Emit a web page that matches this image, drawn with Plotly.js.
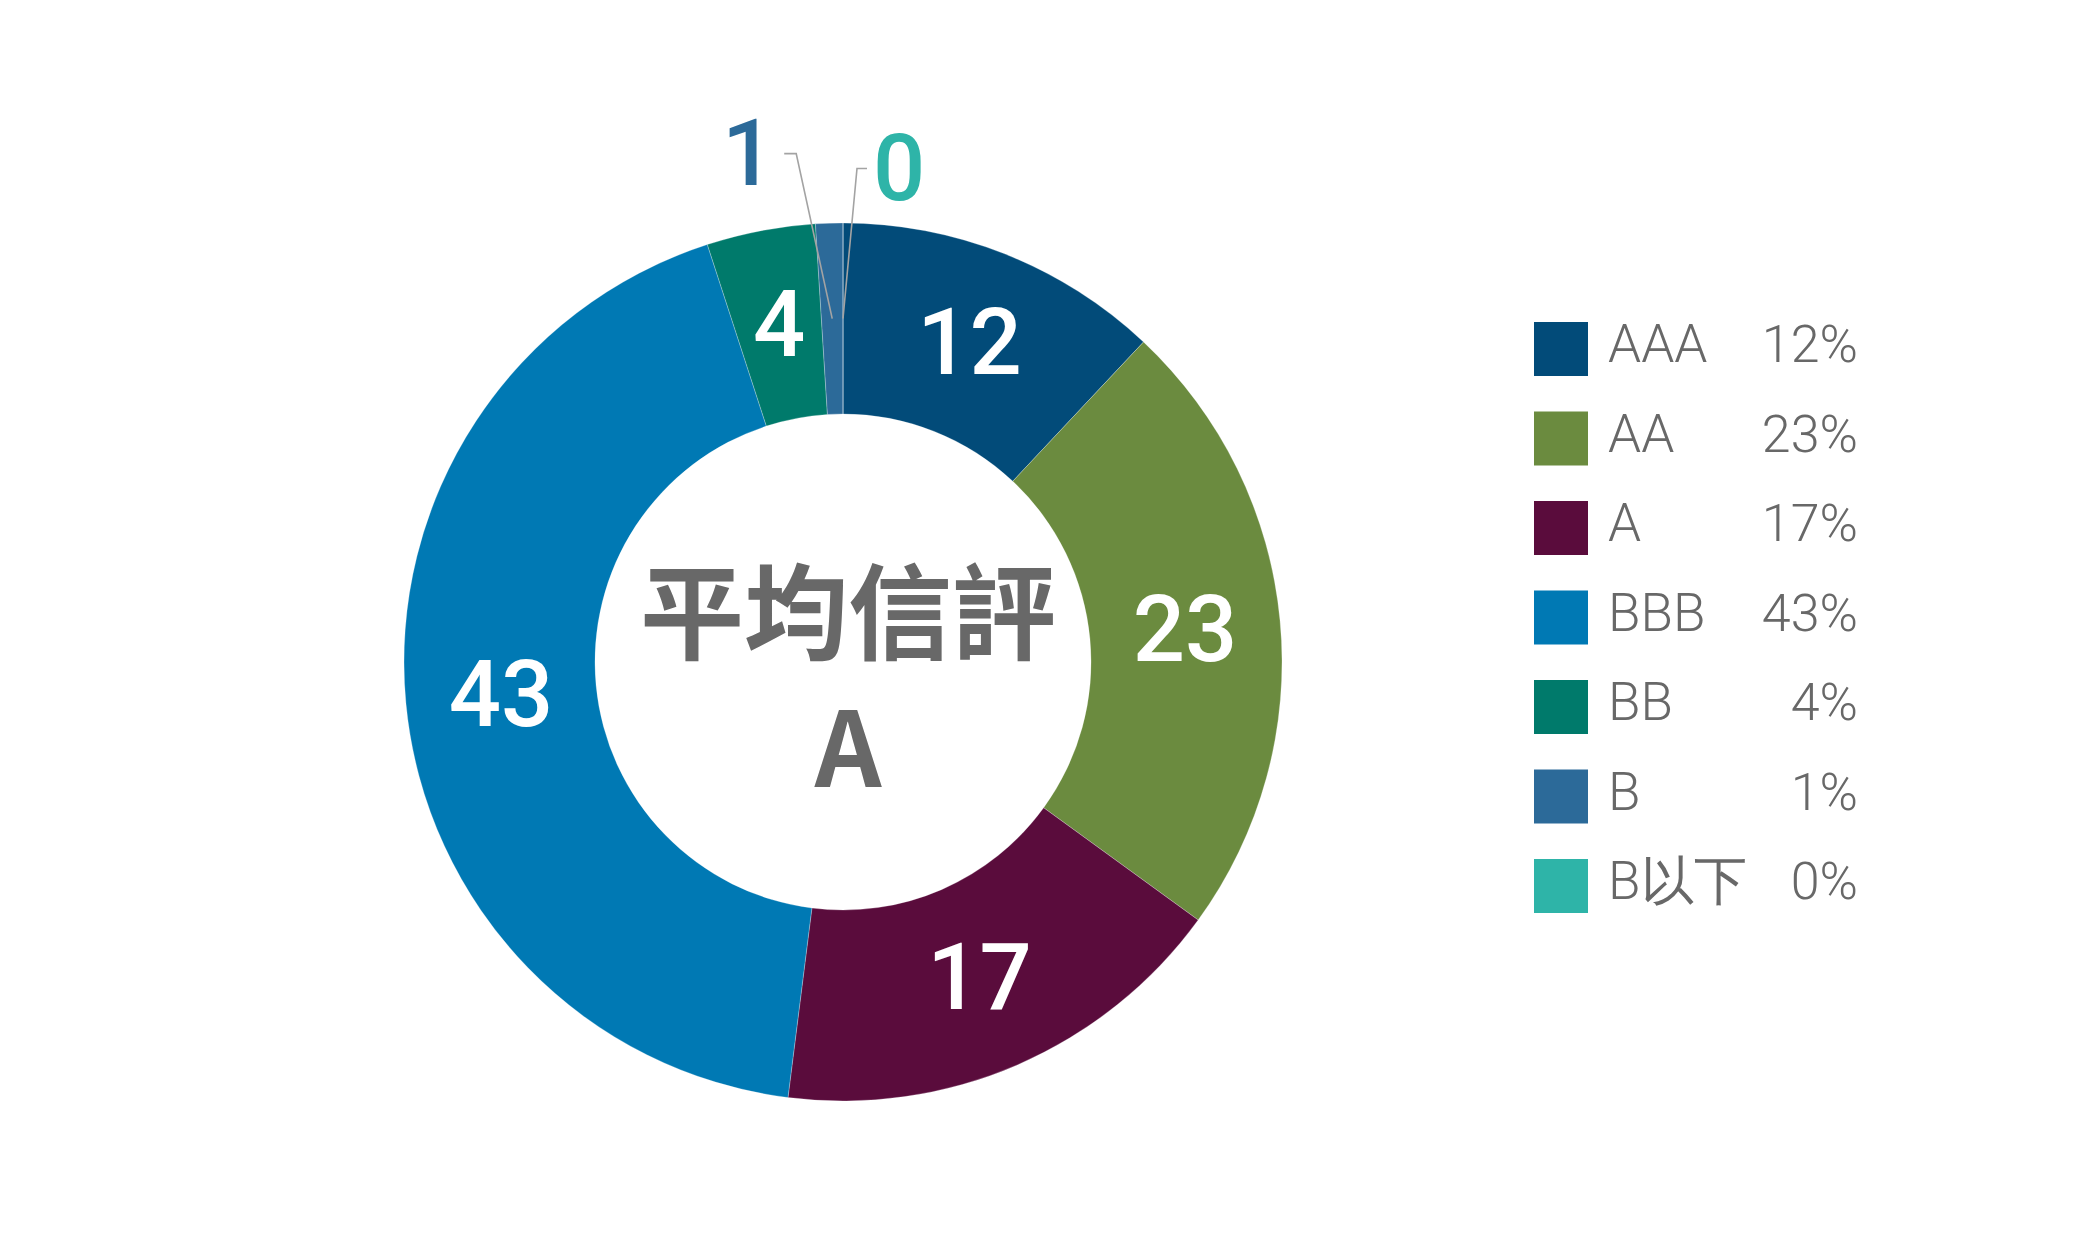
<!DOCTYPE html>
<html>
<head>
<meta charset="utf-8">
<script src="https://cdn.plot.ly/plotly-3.0.1.min.js"></script>
<style>
  body { margin: 0; background: #ffffff; }
  #donut_myDiv { width: 2100px; height: 1259px; }
</style>
</head>
<body>
<div id="donut_myDiv"></div>
<script>
// credit rating breakdown
var ratingLabels = ['AAA', 'AA', 'A', 'BBB', 'BB', 'B', 'B以下'];
var ratingValues = [12, 23, 17, 43, 4, 1, 0];
var ratingColors = ['#024b79', '#6b8b3f', '#5a0c3c', '#0079b4', '#007a6b', '#2c6a99', '#2eb4a8'];
var centerTitle = '平均信評';
var centerRating = 'A';

var chartWidth = 2100;
var chartHeight = 1259;
var pieCx = 843;
var pieCy = 662;
var pieR = 439;
var pieHole = 0.565;

var greyText = '#686868';
var labelFont = {family: 'Roboto', size: 92, weight: 500};

// slices too thin for Plotly's own inside text
var thinSlices = ratingValues.map(function (v) { return v < 5; });
// slices that also need a leader line
var leaderSlices = ratingValues.map(function (v) { return v < 2; });
// leader line: tip -> elbow, then a short horizontal tick, label beside it
var leaderShape = {5: {elbow: [-36, -165], tick: -12, label: -36}, 6: {elbow: [14, -150], tick: 10, label: 32}};

var donutTrace = {
  type: 'pie',
  values: ratingValues,
  labels: ratingLabels,
  sort: false,
  direction: 'clockwise',
  rotation: 0,
  hole: pieHole,
  domain: {
    x: [(pieCx - pieR) / chartWidth, (pieCx + pieR) / chartWidth],
    y: [1 - (pieCy + pieR) / chartHeight, 1 - (pieCy - pieR) / chartHeight]
  },
  marker: {
    colors: ratingColors,
    line: {color: 'rgba(255,255,255,0.25)', width: 1}
  },
  texttemplate: '%{value}',
  textposition: thinSlices.map(function (s) { return s ? 'none' : 'inside'; }),
  insidetextorientation: 'horizontal',
  textfont: Object.assign({color: '#ffffff'}, labelFont),
  showlegend: false,
  hoverinfo: 'label+percent'
};

// legend drawn as a small scatter so the swatches can be big
var legendSwatches = {
  type: 'scatter',
  mode: 'markers',
  x: ratingLabels.map(function () { return 61; }),
  y: ratingLabels,
  marker: {symbol: 'square', size: 54, color: ratingColors, line: {width: 0}},
  showlegend: false,
  hoverinfo: 'skip'
};

var legendNames = {
  type: 'scatter',
  mode: 'text',
  x: ratingLabels.map(function () { return 108; }),
  y: ratingLabels,
  text: ratingLabels,
  textposition: 'middle right',
  textfont: {family: 'Roboto', size: 53, color: greyText, weight: 300},
  showlegend: false,
  hoverinfo: 'skip'
};

var legendPercents = {
  type: 'scatter',
  mode: 'text',
  x: ratingLabels.map(function () { return 358; }),
  y: ratingLabels,
  text: ratingValues.map(function (v) { return v + '%'; }),
  textposition: 'middle left',
  textfont: {family: 'Roboto', size: 52, color: greyText, weight: 300},
  showlegend: false,
  hoverinfo: 'skip'
};

// labels for thin slices, placed at the slice's mid angle on the ring
var total = ratingValues.reduce(function (a, b) { return a + b; }, 0);
var rMid = pieR * (1 + pieHole) / 2;
var annotations = [];
var shapes = [];
var cum = 0;
ratingValues.forEach(function (v, i) {
  var mid = (cum + v / 2) / total;
  cum += v;
  if (!thinSlices[i]) return;
  var theta = 2 * Math.PI * mid;
  var px = pieCx + rMid * Math.sin(theta);
  var py = pieCy - rMid * Math.cos(theta);
  if (!leaderSlices[i]) {
    annotations.push({
      xref: 'x2', yref: 'y2', x: px, y: py,
      text: String(v), showarrow: false,
      font: Object.assign({color: '#ffffff'}, labelFont)
    });
    return;
  }
  var ls = leaderShape[i];
  var ex = px + ls.elbow[0];
  var ey = py + ls.elbow[1];
  // shapes sit above the pie, so the line reaches into the slice
  shapes.push({
    type: 'path', xref: 'x2', yref: 'y2', layer: 'above',
    path: 'M' + px + ',' + py + 'L' + ex + ',' + ey + 'L' + (ex + ls.tick) + ',' + ey,
    line: {color: '#a3a3a3', width: 1.6}
  });
  annotations.push({
    xref: 'x2', yref: 'y2', x: ex + ls.tick + ls.label, y: ey,
    text: String(v), showarrow: false,
    font: Object.assign({color: ratingColors[i]}, labelFont)
  });
});

// centre text in the hole
annotations.push({
  xref: 'x2', yref: 'y2', x: pieCx + 5, y: pieCy + 12,
  text: '<b>' + centerTitle + '</b><br><b>' + centerRating + '</b>', showarrow: false,
  font: {family: 'Noto Sans CJK TC', size: 104, color: greyText}
});

var layout = {
  width: chartWidth,
  height: chartHeight,
  margin: {l: 0, r: 0, t: 0, b: 0},
  paper_bgcolor: '#ffffff',
  plot_bgcolor: 'rgba(0,0,0,0)',
  showlegend: false,
  xaxis: {
    domain: [1500 / chartWidth, 1900 / chartWidth],
    range: [0, 400],
    visible: false,
    fixedrange: true
  },
  yaxis: {
    domain: [1 - 930.75 / chartHeight, 1 - 304.25 / chartHeight],
    type: 'category',
    categoryorder: 'array',
    categoryarray: ratingLabels,
    range: [6.5, -0.5],
    visible: false,
    fixedrange: true
  },
  // pixel-space overlay used for the leader lines and centre text
  xaxis2: {domain: [0, 1], range: [0, chartWidth], anchor: 'y2', visible: false, fixedrange: true},
  yaxis2: {domain: [0, 1], range: [chartHeight, 0], anchor: 'x2', visible: false, fixedrange: true},
  annotations: annotations,
  shapes: shapes
};

var data = [donutTrace, legendSwatches, legendNames, legendPercents];
Plotly.newPlot('donut_myDiv', data, layout, {displayModeBar: false, staticPlot: true});
</script>
</body>
</html>
